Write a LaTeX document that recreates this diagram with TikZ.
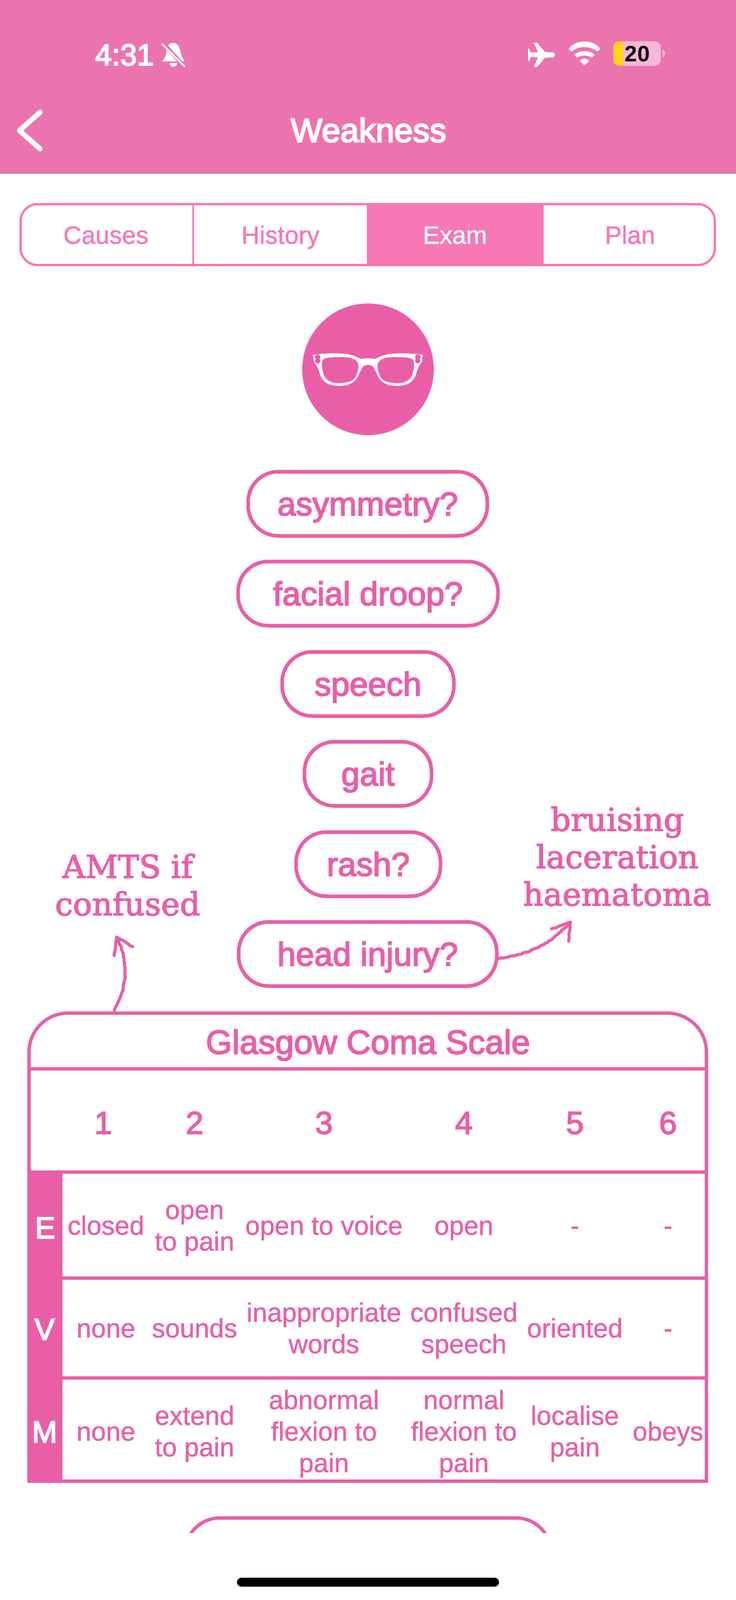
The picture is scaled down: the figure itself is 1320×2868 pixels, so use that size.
\documentclass[tikz,border=0pt]{standalone}
\usepackage{fontspec}
\usetikzlibrary{decorations.pathmorphing}
\setmainfont{Liberation Sans}
\newfontfamily\medf{Liberation Sans}[FakeBold=3]
\newfontfamily\semif{Liberation Sans}[FakeBold=3.6]
\newfontfamily\lightf{Liberation Sans}[FakeBold=0.9]
\newfontfamily\handf{DejaVu Serif}[FakeBold=2.5]
\definecolor{hdr}{HTML}{EC74AE}
\definecolor{tabc}{HTML}{F778B4}
\definecolor{pk}{HTML}{E85FA8}
\definecolor{batt}{HTML}{F5B8D8}
\definecolor{yel}{HTML}{FFD60A}
\newcommand{\fs}[2]{\fontsize{#1}{#2}\selectfont}
\tikzset{
 every node/.style={inner sep=0pt,outer sep=0pt,anchor=center,align=center},
 capmid/.style={text height=#1pt+12pt,text depth=12pt},
 pill/.style={draw=pk,line width=6.5pt,rounded corners=54pt,minimum height=115pt,text=pk,font=\medf\fs{59.5}{70},capmid=42},
 tabtext/.style={font=\lightf\fs{45}{54},capmid=32},
 num/.style={text=pk,font=\medf\fs{57}{66},capmid=41},
 cell/.style={text=pk,font=\lightf\fs{47.5}{56.5}},
 rowlet/.style={text=white,font=\semif\fs{54}{60},capmid=39},
 hand/.style={text=pk,font=\handf\fs{57}{67}},
 rule/.style={draw=pk,line width=6pt},
 chalk/.style={draw=pk,line width=5.5pt,line cap=round,line join=round},
 rough/.style={decorate,decoration={random steps,segment length=4pt,amplitude=0.9pt}},
}
\begin{document}
\begin{tikzpicture}[x=1pt,y=-1pt]
\useasboundingbox (0,0) rectangle (1320,2868);
\fill[white] (0,0) rectangle (1320,2868);
% header
\fill[hdr] (0,0) rectangle (1320,311);
\draw[black!25,line width=1pt] (0,311.5) -- (1320,311.5);
\node[text=white,font=\semif\fs{54}{60},capmid=38] (time) at (223,98) {4:31};
\node[text=white,font=\semif\fs{60}{66},capmid=45] (title) at (661,232) {Weakness};
\draw[white,line width=9pt,line cap=round,line join=round] (72,201) -- (35,234) -- (72,267);
% bell
\fill[white] (310,77) .. controls (300,77) and (299,88) .. (298,96) .. controls (297,102) and (294,106) .. (291,110) -- (331,110) .. controls (328,105) and (325,100) .. (324,94) .. controls (322,85) and (320,77) .. (310,77) -- cycle;
\fill[white] (304,113) -- (318,113) .. controls (317,122) and (305,122) .. (304,113) -- cycle;
\draw[hdr,line width=7pt] (292,76) -- (331,120);
\draw[white,line width=3pt,line cap=round] (291,79) -- (331,119);
% status icons (airplane, wifi)
\begin{scope}[shift={(900,50)},x=0.3333pt,y=-0.3333pt]
\fill[white] (287,145) .. controls (287,136) and (278,131) .. (268,131) -- (232,130) -- (190,80) -- (172,80) -- (195,130) -- (155,133) -- (148,112) -- (141,112) -- (141,178) -- (148,178) -- (155,156) -- (195,159) -- (172,210) -- (190,210) -- (232,160) -- (268,159) .. controls (278,159) and (287,154) .. (287,145) -- cycle;
\fill[white] (360,112) .. controls (400,60) and (490,60) .. (530,112) -- (515,128) .. controls (480,95) and (410,95) .. (375,128) -- cycle;
\fill[white] (390,145) .. controls (420,118) and (470,118) .. (500,145) -- (485,160) .. controls (465,145) and (425,145) .. (405,160) -- cycle;
\fill[white] (420,178) .. controls (435,160) and (455,160) .. (470,178) -- (445,202) -- cycle;
\end{scope}
% battery
\fill[batt,rounded corners=11pt] (1100,74) rectangle (1185,118);
\begin{scope}
\clip (1100,70) rectangle (1117,122);
\fill[yel,rounded corners=11pt] (1100,74) rectangle (1185,118);
\end{scope}
\fill[batt] (1188,89) .. controls (1195,92) and (1195,100) .. (1188,103) -- cycle;
\node[text=black,font=\bfseries\fs{40}{46},capmid=29] (batttext) at (1143,96) {20};
% tabs
\fill[tabc] (658,364) rectangle (975,477);
\draw[tabc,line width=4pt,rounded corners=30pt] (37,366) rectangle (1282,475);
\draw[tabc,line width=3pt] (346,366) -- (346,475);
\node[tabtext,text=tabc] (tcauses) at (190,421) {Causes};
\node[tabtext,text=tabc] (thistory) at (503,421) {History};
\node[tabtext,text=white] (texam) at (816,421) {Exam};
\node[tabtext,text=tabc] (tplan) at (1130,421) {Plan};
% circle + glasses
\fill[pk] (660,662) circle (118);
\begin{scope}[shift={(500,560)},x=0.3333pt,y=-0.3333pt]
\fill[white,even odd rule]
 (183,228) .. controls (250,218) and (350,215) .. (400,232) .. controls (420,238) and (430,248) .. (445,250) .. controls (465,246) and (495,246) .. (515,250) .. controls (530,248) and (540,238) .. (560,232) .. controls (610,215) and (710,218) .. (775,228) -- (770,265) .. controls (755,285) and (748,300) .. (742,320) .. controls (730,370) and (700,395) .. (635,395) .. controls (580,395) and (550,375) .. (535,345) -- (510,295) .. controls (500,278) and (460,278) .. (450,295) -- (425,345) .. controls (410,375) and (380,395) .. (325,395) .. controls (260,395) and (230,370) .. (218,320) .. controls (212,300) and (205,285) .. (190,265) -- cycle
 (232,270) .. controls (234,248) and (250,241) .. (320,240) .. controls (390,240) and (418,250) .. (427,275) .. controls (433,295) and (425,325) .. (412,350) .. controls (395,378) and (345,380) .. (320,380) .. controls (280,380) and (250,365) .. (240,330) .. controls (235,310) and (230,290) .. (232,270) -- cycle
 (728,270) .. controls (726,248) and (710,241) .. (640,240) .. controls (570,240) and (542,250) .. (533,275) .. controls (527,295) and (535,325) .. (548,350) .. controls (565,378) and (615,380) .. (640,380) .. controls (680,380) and (710,365) .. (720,330) .. controls (725,310) and (730,290) .. (728,270) -- cycle;
\fill[pk] (209,240) circle (5pt) (209,260) circle (5pt) (748,240) circle (5pt) (748,260) circle (5pt);
\end{scope}
% pills
\node[pill,minimum width=429pt] (asym) at (659.5,903) {asymmetry?};
\node[pill,minimum width=466pt] (facial) at (660,1064) {facial droop?};
\node[pill,minimum width=308pt] (speech) at (660,1226) {speech};
\node[pill,minimum width=228pt] (gait) at (660,1387) {gait};
\node[pill,minimum width=259pt] (rash) at (660.5,1549) {rash?};
\node[pill,minimum width=463pt] (head) at (659.5,1710) {head injury?};
% GCS table
\draw[rule,rounded corners=70pt] (52,2102) -- (52,1816) -- (1267,1816) -- (1267,2102);
\draw[rule] (52,2102) -- (52,2655) (1267,2102) -- (1267,2655);
\draw[rule] (49,1916) -- (1270,1916);
\draw[rule] (49,2101) -- (1270,2101);
\draw[rule] (110,2291) -- (1270,2291);
\draw[rule] (110,2470) -- (1270,2470);
\draw[rule] (49,2655) -- (1270,2655);
\fill[pk] (49,2098) rectangle (112,2658);
\node[text=pk,font=\medf\fs{60.5}{70},capmid=44] (gcs) at (660,1867) {Glasgow Coma Scale};
\node[num] (n1) at (185,2012) {1};
\node[num] (n2) at (349,2012) {2};
\node[num] (n3) at (581,2012) {3};
\node[num] (n4) at (832,2012) {4};
\node[num] (n5) at (1031,2012) {5};
\node[num] (n6) at (1198,2012) {6};
\node[rowlet] (re) at (81,2200) {E};
\node[rowlet] (rv) at (80,2382) {V};
\node[rowlet] (rm) at (80,2566) {M};
\node[cell] (e1) at (190,2202) {\strut closed};
\node[cell] (e2) at (349,2202) {\strut open\\\strut to pain};
\node[cell] (e3) at (581,2202) {\strut open to voice};
\node[cell] (e4) at (832,2202) {\strut open};
\node[cell] (e5) at (1031,2202) {\strut -};
\node[cell] (e6) at (1198,2202) {\strut -};
\node[cell] (v1) at (190,2386) {\strut none};
\node[cell] (v2) at (349,2386) {\strut sounds};
\node[cell] (v3) at (581,2386) {\strut inappropriate\\\strut words};
\node[cell] (v4) at (832,2386) {\strut confused\\\strut speech};
\node[cell] (v5) at (1031,2386) {\strut oriented};
\node[cell] (v6) at (1198,2386) {\strut -};
\node[cell] (m1) at (190,2571) {\strut none};
\node[cell] (m2) at (349,2571) {\strut extend\\\strut to pain};
\node[cell] (m3) at (581,2571) {\strut abnormal\\flexion to\\\strut pain};
\node[cell] (m4) at (832,2571) {\strut normal\\flexion to\\\strut pain};
\node[cell] (m5) at (1031,2571) {\strut localise\\\strut pain};
\node[cell] (m6) at (1198,2571) {\strut obeys};
% partial box at the bottom
\begin{scope}
\clip (300,2700) rectangle (1020,2747);
\draw[rule,rounded corners=62pt] (332,2900) -- (332,2721) -- (988,2721) -- (988,2900);
\end{scope}
% home indicator
\fill[black,rounded corners=8pt] (425,2828) rectangle (895,2844);
% handwriting
\node[hand] (amts) at (229,1586) {AMTS if\\confused};
\node[hand] (bruise) at (1107,1535) {bruising\\laceration\\haematoma};
% chalk arrows
\coordinate (gcsedge) at (205,1811);
\coordinate (tipL) at (209,1680);
\coordinate (cL1) at (228,1770);
\coordinate (cL2) at (232,1725);
\coordinate (hL1) at (205,1713);
\coordinate (hL2) at (238,1697);
\draw[chalk,rough] (gcsedge) .. controls (cL1) and (cL2) .. (tipL);
\draw[chalk,rough] (hL1) -- (tipL) -- (hL2);
\coordinate (tipR) at (1023,1653);
\coordinate (cR1) at (945,1712);
\coordinate (cR2) at (985,1695);
\coordinate (hR1) at (989,1665);
\coordinate (hR2) at (1020,1687);
\draw[chalk,rough] ([yshift=-8pt]head.east) .. controls (cR1) and (cR2) .. (tipR);
\draw[chalk,rough] (hR1) -- (tipR) -- (hR2);
\end{tikzpicture}
\end{document}
